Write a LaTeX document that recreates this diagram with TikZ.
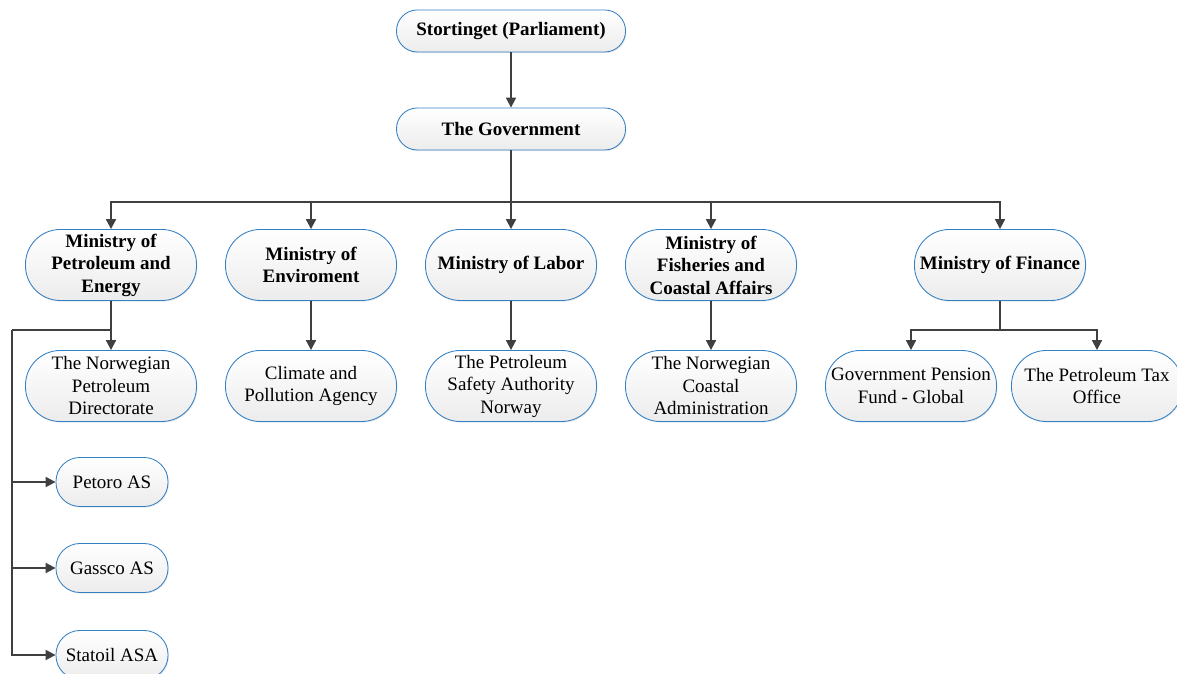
\documentclass[tikz,border=0pt]{standalone}
\usepackage{fontspec}
\setmainfont{Liberation Serif}
\usepackage{tikz}
\usetikzlibrary{arrows.meta,shadows}

\definecolor{boxblue}{RGB}{52,128,196}
\definecolor{boxgray}{RGB}{236,236,236}
\definecolor{linegray}{RGB}{64,64,64}
\newcommand\orgfont{\fontsize{13.5}{16}\selectfont}

\tikzset{
    box/.style={draw=boxblue, line width=0.6pt, top color=white, bottom color=boxgray,
        align=center, inner sep=1pt, font=\orgfont,
        drop shadow={opacity=0.18, shadow xshift=0.6pt, shadow yshift=-0.8pt}},
    topbox/.style={box, font=\orgfont\bfseries, minimum width=5.725cm, minimum height=1.05cm, rounded corners=0.52cm},
    minbox/.style={box, font=\orgfont\bfseries, minimum width=4.275cm, minimum height=1.775cm, rounded corners=0.87cm},
    unitbox/.style={box, minimum width=4.275cm, minimum height=1.775cm, rounded corners=0.87cm},
    cobox/.style={box, minimum width=2.8cm, minimum height=1.225cm, rounded corners=0.6cm},
    link/.style={draw=linegray, line width=1.3pt}
}

\begin{document}
\begin{tikzpicture}[x=0.025cm,y=-0.025cm,>={Triangle[length=7pt,width=7pt]}]
    \clip (0,0) rectangle (1177,674);

    % top levels
    \node[topbox] (stort) at (511,31) {Stortinget (Parliament)};
    \node[topbox] (gov) at (511,129) {The Government};

    % ministries
    \node[minbox] (mpe)  at (111,265)  {Ministry of\\Petroleum and\\Energy};
    \node[minbox] (env)  at (311,265)  {Ministry of\\Enviroment};
    \node[minbox] (lab)  at (511,265)  {Ministry of Labor};
    \node[minbox] (fish) at (711,265)  {Ministry of\\Fisheries and\\Coastal Affairs};
    \node[minbox] (fin)  at (1000,265) {Ministry of Finance};

    % agencies
    \node[unitbox] (npd) at (111,386)  {The Norwegian\\Petroleum\\Directorate};
    \node[unitbox] (cpa) at (311,386)  {Climate and\\Pollution Agency};
    \node[unitbox] (psa) at (511,386)  {The Petroleum\\Safety Authority\\Norway};
    \node[unitbox] (nca) at (711,386)  {The Norwegian\\Coastal\\Administration};
    \node[unitbox] (gpf) at (911,386)  {Government Pension\\Fund - Global};
    \node[unitbox] (pto) at (1097,386) {The Petroleum Tax\\Office};

    % companies
    \node[cobox] (petoro)  at (112,482) {Petoro AS};
    \node[cobox] (gassco)  at (112,568) {Gassco AS};
    \node[cobox] (statoil) at (112,655) {Statoil ASA};

    % junction points
    \coordinate (bus)  at (511,202);
    \coordinate (mpej) at (111,330);
    \coordinate (mpel) at (12,330);
    \coordinate (finj) at (1000,330);

    % connectors
    \draw[link,->] (stort) -- (gov);
    \draw[link] (gov) -- (bus);
    \draw[link,->] (bus) -- (lab);
    \foreach \m in {mpe,env,fish,fin}
        \draw[link,->] (bus) -| (\m.north);

    \draw[link] (mpe) -- (mpej) -- (mpel);
    \draw[link,->] (mpej) -- (npd);
    \foreach \c in {petoro,gassco,statoil}
        \draw[link,->] (mpel) |- (\c.west);

    \draw[link,->] (env) -- (cpa);
    \draw[link,->] (lab) -- (psa);
    \draw[link,->] (fish) -- (nca);

    \draw[link] (fin) -- (finj);
    \draw[link,->] (finj) -| (gpf.north);
    \draw[link,->] (finj) -| (pto.north);
\end{tikzpicture}
\end{document}
